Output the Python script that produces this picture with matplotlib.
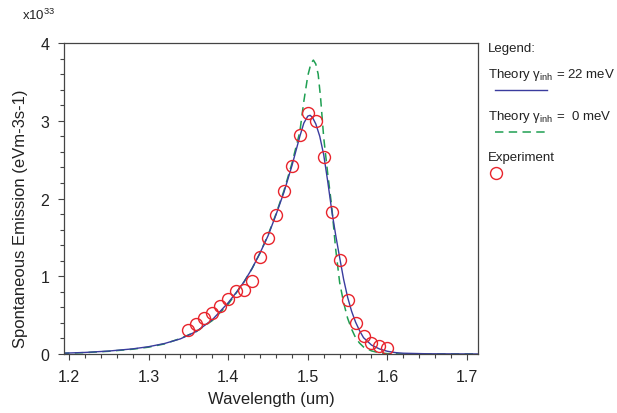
import matplotlib; matplotlib.use("Agg")
import matplotlib.pyplot as plt
from matplotlib.lines import Line2D

plt.rcParams["font.family"] = ["Liberation Sans", "DejaVu Sans"]
plt.rcParams["mathtext.fontset"] = "custom"
plt.rcParams["mathtext.rm"] = "Liberation Sans"
plt.rcParams["mathtext.it"] = "Liberation Sans:italic"

# theory, gamma_inh = 22 meV (units of 1e33)
wl_22 = [1.19, 1.20, 1.22, 1.25, 1.28, 1.30, 1.32, 1.34, 1.36, 1.38, 1.39, 1.40, 1.41,
         1.42, 1.43, 1.44, 1.45, 1.46, 1.47, 1.48, 1.49, 1.495, 1.50, 1.503, 1.506,
         1.51, 1.515, 1.52, 1.525, 1.53, 1.535, 1.54, 1.545, 1.55, 1.555, 1.56, 1.565,
         1.57, 1.58, 1.59, 1.60, 1.61, 1.62, 1.65, 1.72]
se_22 = [0.010, 0.013, 0.020, 0.038, 0.066, 0.094, 0.135, 0.195, 0.29, 0.44, 0.55, 0.66, 0.79,
         0.93, 1.10, 1.30, 1.52, 1.79, 2.08, 2.42, 2.80, 2.97, 3.06, 3.07, 3.04,
         2.96, 2.80, 2.56, 2.22, 1.85, 1.53, 1.24, 0.96, 0.73, 0.55, 0.41, 0.30,
         0.21, 0.115, 0.065, 0.035, 0.018, 0.010, 0.003, 0.0]

# theory, gamma_inh = 0 meV
wl_0 = [1.19, 1.20, 1.22, 1.25, 1.28, 1.30, 1.32, 1.34, 1.36, 1.38, 1.40, 1.42, 1.43,
        1.44, 1.45, 1.46, 1.47, 1.48, 1.49, 1.495, 1.50, 1.504, 1.507, 1.51, 1.513,
        1.516, 1.52, 1.525, 1.53, 1.535, 1.54, 1.545, 1.55, 1.555, 1.56, 1.565, 1.57,
        1.58, 1.59, 1.60, 1.62, 1.72]
se_0 = [0.008, 0.011, 0.018, 0.035, 0.062, 0.088, 0.13, 0.20, 0.29, 0.43, 0.64, 0.93, 1.10,
        1.30, 1.53, 1.80, 2.10, 2.45, 2.86, 3.25, 3.58, 3.74, 3.78, 3.73, 3.60,
        3.30, 2.78, 2.32, 1.90, 1.35, 0.92, 0.66, 0.46, 0.32, 0.21, 0.14, 0.09,
        0.04, 0.015, 0.005, 0.0, 0.0]

# experiment
wl_exp = [1.35, 1.36, 1.37, 1.38, 1.39, 1.40, 1.41, 1.42, 1.43, 1.44, 1.45, 1.46, 1.47,
          1.48, 1.49, 1.50, 1.51, 1.52, 1.53, 1.54, 1.55, 1.56, 1.57, 1.58, 1.59, 1.60]
se_exp = [0.313, 0.386, 0.467, 0.531, 0.617, 0.707, 0.814, 0.823, 0.935, 1.248, 1.496, 1.788, 2.093,
          2.422, 2.821, 3.100, 2.993, 2.538, 1.830, 1.209, 0.695, 0.395, 0.228, 0.141, 0.099, 0.077]

xticks = [1.2, 1.3, 1.4, 1.5, 1.6, 1.7]
yticks = [0, 1, 2, 3, 4]

BLUE = "#3a3c9e"; GREEN = "#1f9f52"; RED = "#e8242c"; TXT = "#222222"; SPINE = "#444444"
W, H = 617, 414

fig = plt.figure(figsize=(W/100, H/100), dpi=100)
ax = fig.add_axes([64/W, 1-355/H, (478-64)/W, (355-44)/H])

ax.plot(wl_0, se_0, color=GREEN, lw=1.1, dashes=(5.5, 3.5))
ax.plot(wl_22, se_22, color=BLUE, lw=1.0)
ax.plot(wl_exp, se_exp, "o", mfc="none", mec=RED, mew=1.0, ms=8.6)

ax.set_xlim(1.1937, 1.7138); ax.set_ylim(0, 4)
ax.set_xticks(xticks); ax.set_xticklabels([f"{v:.1f}" for v in xticks])
ax.set_yticks(yticks); ax.set_yticklabels([str(v) for v in yticks])
ax.set_xticks([1.2 + 0.02*i for i in range(26) if i % 5], minor=True)
ax.set_yticks([0.2*i for i in range(20) if i % 5], minor=True)
ax.tick_params(which="major", direction="out", length=4, width=0.8, color=SPINE,
               labelsize=11.5, labelcolor=TXT, pad=6.5)
ax.tick_params(which="minor", direction="out", length=3.2, width=0.8, color=SPINE)
for s in ax.spines.values():
    s.set_color(SPINE); s.set_linewidth(0.9)

fig.text(271/W, 1-400/H, "Wavelength (um)", ha="center", va="center", fontsize=12, color=TXT)
fig.text(21/W, 1-219/H, "Spontaneous Emission (eVm-3s-1)", ha="center", va="center",
         rotation=90, fontsize=12, color=TXT)
fig.text(22/W, 1-15/H, r"x10$^{33}$", ha="left", va="center", fontsize=9.5, color=TXT)

# legend drawn by hand, to the right of the axes
fig.text(488/W, 1-49/H, "Legend:", ha="left", va="center", fontsize=9.5, color=TXT)
fig.text(488/W, 1-75/H, "Theory γ$_{\\rm inh}$ = 22 meV", ha="left", va="center", fontsize=9.5, color=TXT)
fig.add_artist(Line2D([495/W, 547/W], [1-91/H, 1-91/H], transform=fig.transFigure, color=BLUE, lw=1.0))
fig.text(488/W, 1-117/H, "Theory γ$_{\\rm inh}$ =  0 meV", ha="left", va="center", fontsize=9.5, color=TXT)
fig.add_artist(Line2D([495/W, 547/W], [1-133/H, 1-133/H], transform=fig.transFigure, color=GREEN,
                      lw=1.1, dashes=(5.5, 3.5)))
fig.text(488/W, 1-158/H, "Experiment", ha="left", va="center", fontsize=9.5, color=TXT)
fig.add_artist(Line2D([496/W], [1-174/H], transform=fig.transFigure, marker="o", mfc="none",
                      mec=RED, mew=1.0, ms=8.6, lw=0))

fig.savefig("out.png", dpi=100)
